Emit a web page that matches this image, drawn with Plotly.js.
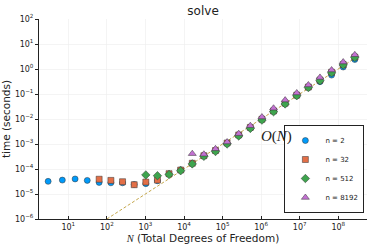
<!DOCTYPE html>
<html>
<head>
<meta charset="utf-8">
<script src="https://cdn.plot.ly/plotly-3.0.1.min.js"></script>
<style>html,body{margin:0;padding:0;background:#fff;}#chart{width:374px;height:249px;}</style>
</head>
<body>
<div id="chart"></div>
<script>
// Total degrees of freedom N (2^k - 1, k = 2..28)
const N = [3, 7, 15, 31, 63, 127, 255, 511, 1023, 2047, 4095, 8191, 16383, 32767, 65535,
  131071, 262143, 524287, 1048575, 2097151, 4194303, 8388607, 16777215, 33554431,
  67108863, 134217727, 268435455];

// n = 2 (all N)
const time_n2 = [3.2e-5, 3.6e-5, 4.0e-5, 3.5e-5, 2.9e-5, 2.8e-5, 2.8e-5, 2.4e-5, 2.6e-5, 3.4e-5,
  6.3e-5, 9.3e-5, 1.7e-4, 3.3e-4, 5.4e-4, 1.05e-3, 2.2e-3, 4.4e-3, 9.5e-3, 2.0e-2,
  4.1e-2, 8.6e-2, 0.18, 0.31, 0.57, 1.2, 2.4];
// n = 32 (N from 63)
const N_n32 = N.slice(4);
const time_n32 = [3.9e-5, 3.5e-5, 3.1e-5, 2.35e-5, 3.0e-5, 3.6e-5, 6.5e-5, 9.1e-5, 1.7e-4, 3.4e-4,
  5.5e-4, 1.1e-3, 2.3e-3, 4.6e-3, 9.8e-3, 2.1e-2, 4.3e-2, 9.0e-2, 0.19, 0.36, 0.74, 1.5, 3.0];
// n = 512 (N from 1023)
const N_n512 = N.slice(8);
const time_n512 = [5.8e-5, 5.4e-5, 6.0e-5, 8.5e-5, 1.6e-4, 3.2e-4, 5.0e-4, 1.0e-3, 2.1e-3, 4.2e-3,
  9.0e-3, 1.95e-2, 4.0e-2, 8.5e-2, 0.18, 0.34, 0.70, 1.45, 2.9];
// n = 8192 (N from 16383)
const N_n8192 = N.slice(12);
const time_n8192 = [4.1e-4, 3.9e-4, 6.4e-4, 1.2e-3, 2.6e-3, 5.4e-3, 1.2e-2, 2.7e-2, 5.7e-2, 0.11,
  0.23, 0.46, 0.91, 1.9, 3.7];

// O(N) reference line coefficient
const oN_coef = 1e-8;
const oN_time = N.map(v => oN_coef * v);

const seriesNames = ["n = 2", "n = 32", "n = 512", "n = 8192"];

// tick values and labels
const xTickVals = [1e1, 1e2, 1e3, 1e4, 1e5, 1e6, 1e7, 1e8];
const xTickText = ['10<sup>1</sup>', '10<sup>2</sup>', '10<sup>3</sup>', '10<sup>4</sup>',
  '10<sup>5</sup>', '10<sup>6</sup>', '10<sup>7</sup>', '10<sup>8</sup>'];
const yTickVals = [1e-6, 1e-5, 1e-4, 1e-3, 1e-2, 1e-1, 1e0, 1e1, 1e2];
const yTickText = ['10<sup>\u22126</sup>', '10<sup>\u22125</sup>', '10<sup>\u22124</sup>',
  '10<sup>\u22123</sup>', '10<sup>\u22122</sup>', '10<sup>\u22121</sup>', '10<sup>0</sup>',
  '10<sup>1</sup>', '10<sup>2</sup>'];

const edge = {color: '#333333', width: 0.5};
const traces = [
  {x: N, y: oN_time, mode: 'lines', showlegend: false, hoverinfo: 'skip',
   line: {color: '#c4a64a', width: 1, dash: '3px,2px'}},
  {x: N, y: time_n2, mode: 'markers', name: seriesNames[0],
   marker: {symbol: 'circle', size: 6, color: '#009AFA', line: edge}},
  {x: N_n32, y: time_n32, mode: 'markers', name: seriesNames[1],
   marker: {symbol: 'square', size: 6, color: '#E36F47', line: edge}},
  {x: N_n512, y: time_n512, mode: 'markers', name: seriesNames[2],
   marker: {symbol: 'diamond', size: 6.5, color: '#3EA44E', line: edge}},
  {x: N_n8192, y: time_n8192, mode: 'markers', name: seriesNames[3],
   marker: {symbol: 'triangle-up', size: 7, color: '#C371D2', line: edge}}
];

const axisCommon = {
  type: 'log', tickmode: 'array',
  showgrid: true, gridcolor: '#ececec', gridwidth: 0.6,
  zeroline: false, showline: true, linecolor: '#222222', linewidth: 1,
  ticklen: 3, tickcolor: '#222222',
  tickfont: {family: 'DejaVu Sans', size: 8, color: '#222222'},
  automargin: false
};

const layout = {
  width: 374, height: 249,
  margin: {l: 39, r: 7, t: 19, b: 30},
  paper_bgcolor: '#ffffff', plot_bgcolor: '#ffffff',
  font: {family: 'DejaVu Sans', color: '#222222'},
  title: {text: 'solve', x: 0.543, xanchor: 'center', yref: 'container', y: 0.975, yanchor: 'top',
          font: {family: 'DejaVu Sans', size: 12, color: '#222222'}},
  xaxis: Object.assign({}, axisCommon, {
    range: [0.24, 8.745], ticks: 'inside', tickvals: xTickVals, ticktext: xTickText,
    title: {text: '<span style="font-family:Liberation Serif;font-style:italic">N</span> (Total Degrees of Freedom)',
            font: {family: 'DejaVu Sans', size: 10.5, color: '#222222'}, standoff: 4}
  }),
  yaxis: Object.assign({}, axisCommon, {
    range: [-6, 2], ticks: 'outside', tickvals: yTickVals, ticktext: yTickText,
    title: {text: 'time (seconds)', font: {family: 'DejaVu Sans', size: 10.5, color: '#222222'}, standoff: 6}
  }),
  legend: {x: 0.992, xanchor: 'right', y: 0.03, yanchor: 'bottom',
           bgcolor: '#ffffff', bordercolor: '#222222', borderwidth: 1,
           font: {family: 'DejaVu Sans', size: 7, color: '#222222'},
           itemwidth: 30, tracegroupgap: 0},
  annotations: [{
    x: 6.4, y: -2.68, xref: 'x', yref: 'y', showarrow: false,
    text: '<i>O</i>(<i>N</i>)',
    font: {family: 'Liberation Serif', size: 15, color: '#222222'}
  }]
};

Plotly.newPlot('chart', traces, layout, {displayModeBar: false, staticPlot: true});
</script>
</body>
</html>
